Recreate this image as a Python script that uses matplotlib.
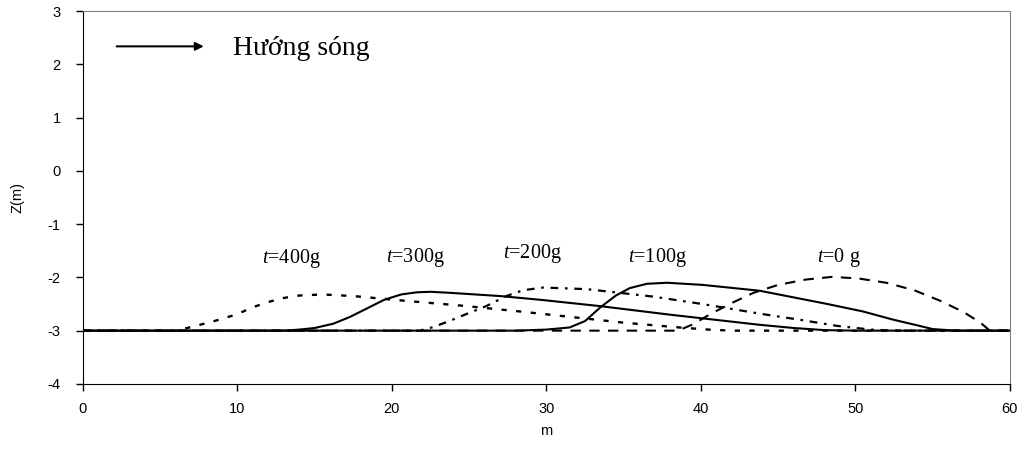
import matplotlib
matplotlib.use("Agg")
import matplotlib.pyplot as plt

plt.rcParams["mathtext.fontset"] = "custom"
plt.rcParams["mathtext.it"] = "Liberation Serif:italic"
plt.rcParams["mathtext.rm"] = "Liberation Serif"

# Data
t0_x = [0, 38.5, 39.5, 40.6, 42, 43.4, 45, 46.8, 48.5, 50.2, 52.0, 53.8, 55.5, 57, 58.1, 58.7, 60]
t0_z = [-3, -3, -2.88, -2.69, -2.48, -2.29, -2.14, -2.04, -1.99, -2.02, -2.10, -2.24, -2.44, -2.65, -2.85, -3, -3]

t100_x = [0, 28, 30, 31.5, 32.5, 33.5, 34.5, 35.4, 36.5, 37.8, 40.1, 43.8, 48.2, 50.5, 52.4, 54, 55, 56.5, 60]
t100_z = [-3, -3, -2.98, -2.94, -2.82, -2.56, -2.34, -2.20, -2.12, -2.10, -2.14, -2.25, -2.50, -2.64, -2.79, -2.90, -2.97, -3, -3]

t200_x = [0, 21.8, 22.7, 23.8, 24.8, 26.1, 27.4, 28.5, 29.8, 32.6, 36.9, 40.1, 43.8, 46.5, 48.8, 51, 52.5, 60]
t200_z = [-3, -3, -2.93, -2.81, -2.69, -2.54, -2.35, -2.24, -2.19, -2.22, -2.36, -2.50, -2.68, -2.80, -2.91, -2.98, -3, -3]

t300_x = [0, 13, 14, 15, 16.2, 17.3, 18.4, 19.5, 20.6, 21.6, 22.5, 23.8, 27.0, 29.6, 33.5, 38, 43.8, 46, 48, 50, 60]
t300_z = [-3, -3, -2.98, -2.95, -2.87, -2.74, -2.58, -2.42, -2.32, -2.28, -2.27, -2.29, -2.35, -2.42, -2.54, -2.70, -2.89, -2.95, -2.99, -3, -3]

t400_x = [0, 6, 6.9, 8.5, 10.0, 10.9, 11.9, 12.9, 14.0, 15.5, 17.5, 20.5, 24.5, 28.3, 31.5, 35, 38.6, 40.5, 42, 60]
t400_z = [-3, -3, -2.94, -2.82, -2.69, -2.57, -2.47, -2.39, -2.34, -2.32, -2.35, -2.43, -2.53, -2.64, -2.74, -2.85, -2.94, -2.98, -3, -3]

labels = ["=0 g", "=100g", "=200g", "=300g", "=400g"]
label_x = [48.9, 37.2, 29.1, 21.5, 13.5]
label_z = [-1.62, -1.63, -1.56, -1.63, -1.65]

x_ticks = [0, 10, 20, 30, 40, 50, 60]
y_ticks = [-4, -3, -2, -1, 0, 1, 2, 3]

fig = plt.figure(figsize=(10.18, 4.49), dpi=100)
ax = fig.add_axes([0.0815, 0.145, 0.9105, 0.83])

ax.plot(t0_x, t0_z, color="black", lw=1.5, dashes=(5, 4))
ax.plot(t100_x, t100_z, color="black", lw=1.5, ls="-")
ax.plot(t200_x, t200_z, color="black", lw=1.6, dashes=(3.5, 3, 1.2, 3))
ax.plot(t300_x, t300_z, color="black", lw=1.5, ls="-")
ax.plot(t400_x, t400_z, color="black", lw=1.7, dashes=(2.2, 4))

serif = ["Liberation Serif", "DejaVu Serif"]
for lab, lx, lz in zip(labels, label_x, label_z):
    ax.text(lx, lz, "$\\mathit{t}$" + lab, ha="center", va="center",
            fontsize=14.5, family=serif)

ax.annotate("", xy=(8.0, 2.34), xytext=(2.0, 2.34),
            arrowprops=dict(arrowstyle="-|>", color="black", lw=1.5,
                            mutation_scale=12))
ax.text(9.7, 2.3, "Hướng sóng", fontsize=20, family=serif, ha="left", va="center")

ax.set_xlim(0, 60)
ax.set_ylim(-4, 3)
ax.set_xticks(x_ticks)
ax.set_yticks(y_ticks)
ax.set_xticklabels([str(v) for v in x_ticks], family="Liberation Sans", fontsize=10.5)
ax.set_yticklabels([str(v) for v in y_ticks], family="Liberation Sans", fontsize=10.5)
ax.tick_params(direction="out", length=5, width=1, pad=8, axis="x")
ax.tick_params(direction="out", length=5, width=1, pad=11, axis="y")
ax.spines["top"].set_color("#808080")
ax.spines["right"].set_color("#808080")
ax.spines["left"].set_color("black")
ax.spines["bottom"].set_color("black")
ax.set_xlabel("m", family="Liberation Sans", fontsize=10.5, labelpad=6)
ax.set_ylabel("Z(m)", family="Liberation Sans", fontsize=10.5, labelpad=17)

fig.savefig("out.png", dpi=100)
